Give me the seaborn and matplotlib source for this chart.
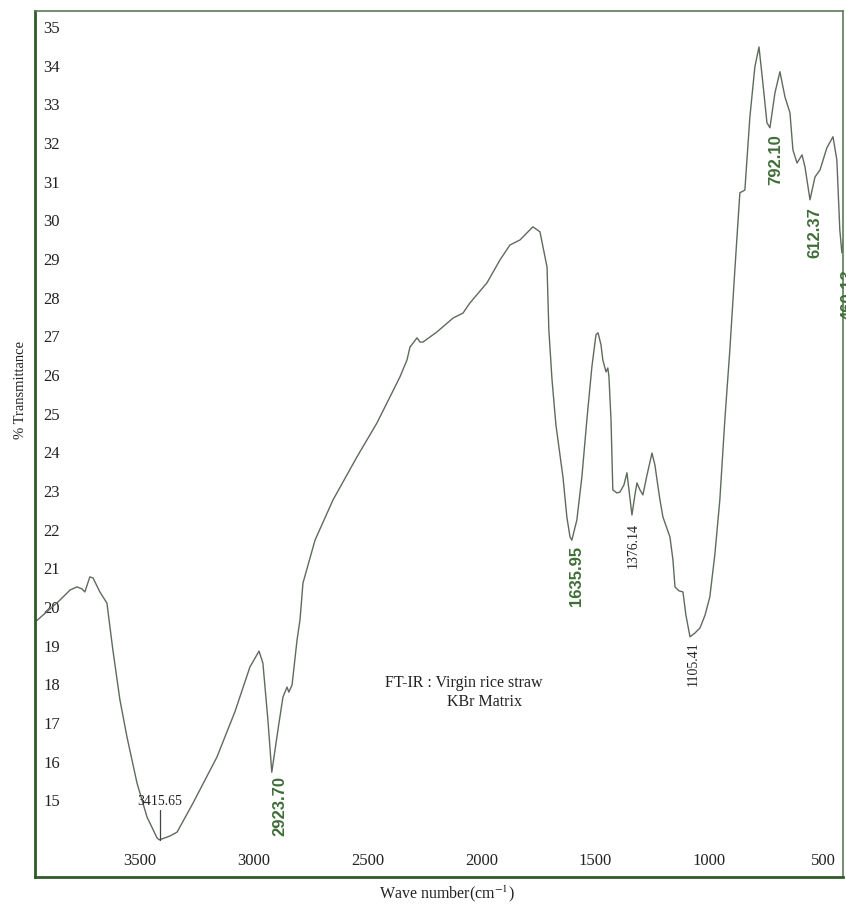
import matplotlib
matplotlib.use("Agg")
import matplotlib.pyplot as plt
import seaborn as sns
import pandas as pd

# ---- data ----
wavenumber = [3961, 3860, 3807, 3777, 3755, 3742, 3720, 3706, 3676, 3645,
              3619, 3588, 3557, 3513, 3469, 3425, 3415, 3368, 3337, 3267,
              3162, 3083, 3017, 2977, 2960, 2938, 2921, 2894, 2872, 2854,
              2846, 2832, 2810, 2797, 2784, 2731, 2652, 2547, 2459, 2358,
              2327, 2314, 2283, 2270, 2257, 2196, 2125, 2081, 2051, 1976,
              1919, 1875, 1831, 1774, 1743, 1712, 1704, 1690, 1673, 1642,
              1625, 1611, 1603, 1581, 1559, 1537, 1515, 1497, 1488, 1475,
              1467, 1453, 1445, 1440, 1431, 1423, 1405, 1392, 1374, 1361,
              1352, 1339, 1326, 1317, 1304, 1291, 1273, 1251, 1238, 1229,
              1216, 1203, 1172, 1159, 1150, 1133, 1115, 1102, 1084, 1062,
              1040, 1018, 997, 975, 953, 931, 909, 887, 865, 843,
              821, 799, 781, 764, 746, 733, 711, 689, 667, 645,
              632, 614, 592, 579, 557, 535, 513, 483, 456, 439,
              426, 417, 404, 390]
transmittance = [19.61, 20.13, 20.44, 20.52, 20.47, 20.39, 20.78, 20.75, 20.39, 20.10,
                 18.89, 17.60, 16.64, 15.45, 14.57, 14.03, 13.98, 14.08, 14.18, 14.93,
                 16.12, 17.29, 18.45, 18.86, 18.55, 17.08, 15.73, 16.82, 17.67, 17.93,
                 17.80, 17.98, 19.15, 19.67, 20.62, 21.73, 22.77, 23.88, 24.76, 25.95,
                 26.39, 26.72, 26.96, 26.85, 26.85, 27.11, 27.47, 27.60, 27.86, 28.38,
                 28.97, 29.36, 29.49, 29.83, 29.70, 28.79, 27.16, 25.87, 24.71, 23.36,
                 22.33, 21.81, 21.73, 22.25, 23.36, 24.84, 26.21, 27.04, 27.09, 26.78,
                 26.39, 26.08, 26.18, 25.95, 24.84, 23.03, 22.95, 22.97, 23.16, 23.47,
                 23.03, 22.38, 22.90, 23.21, 23.03, 22.90, 23.41, 23.98, 23.67, 23.29,
                 22.77, 22.33, 21.81, 21.22, 20.52, 20.42, 20.39, 19.79, 19.23, 19.33,
                 19.46, 19.79, 20.26, 21.35, 22.77, 24.84, 26.65, 28.72, 30.71, 30.78,
                 32.67, 33.97, 34.48, 33.55, 32.52, 32.39, 33.29, 33.84, 33.19, 32.78,
                 31.82, 31.48, 31.69, 31.38, 30.53, 31.12, 31.30, 31.87, 32.16, 31.56,
                 29.75, 29.16, 29.75, 30.14]

x_ticks = [3500, 3000, 2500, 2000, 1500, 1000, 500]
y_ticks = list(range(14, 36))
y_ticklabels = ["" if v == 14 else str(v) for v in y_ticks]

# peak annotations
peak_labels = ["2923.70", "1635.95", "1376.14", "1105.41", "792.10", "612.37", "460.13"]
peak_x = [2885, 1581, 1335, 1071, 707, 535, 388]
peak_y = [14.86, 20.80, 21.60, 18.53, 31.56, 29.67, 28.07]
peak_green = [True, True, False, False, True, True, True]

df = pd.DataFrame({"Wavenumber": wavenumber, "T": transmittance})

sns.set_style("white")
plt.rcParams["font.family"] = ["Liberation Serif", "DejaVu Serif"]
plt.rcParams["mathtext.fontset"] = "stix"

fig = plt.figure(figsize=(8.46, 9.06), dpi=100)
ax = fig.add_axes([35 / 846, 1 - 877 / 906, (843 - 35) / 846, (877 - 11) / 906])

sns.lineplot(data=df, x="Wavenumber", y="T", ax=ax, color="#5e6b5c",
             linewidth=1.0, sort=False)

ax.set_xlim(3961, 412)
ax.set_ylim(13.02, 35.41)
ax.set_xlabel("")
ax.set_ylabel("")

spine_col = "#2f5a2a"
for side in ["left", "bottom"]:
    ax.spines[side].set_color(spine_col)
    ax.spines[side].set_linewidth(2.0)
for side in ["top", "right"]:
    ax.spines[side].set_color("#5d7a58")
    ax.spines[side].set_linewidth(1.2)

ax.set_yticks(y_ticks)
ax.set_yticklabels(y_ticklabels)
ax.set_xticks(x_ticks)
ax.set_xticklabels([str(v) for v in x_ticks])
ax.tick_params(axis="y", direction="in", length=5, width=1, pad=-6,
               labelsize=12, colors="#222222")
ax.tick_params(axis="x", direction="in", length=5, width=1, pad=-6,
               labelsize=12, colors="#222222")
for lab in ax.get_yticklabels():
    lab.set_horizontalalignment("left")
for lab in ax.get_xticklabels():
    lab.set_verticalalignment("bottom")

# 3415.65 label with marker line
ax.text(3412, 14.96, "3415.65", ha="center", va="center", fontsize=10,
        color="#222222")
ax.plot([3412, 3412], [14.75, 13.98], color="#444444", linewidth=0.9)

for txt, px, py, green in zip(peak_labels, peak_x, peak_y, peak_green):
    if green:
        ax.text(px, py, txt, rotation=90, ha="center", va="center",
                fontsize=12, fontweight="bold", color="#3f6e38",
                family=["Liberation Sans", "DejaVu Sans"], clip_on=False)
    else:
        ax.text(px, py, txt, rotation=90, ha="center", va="center",
                fontsize=10, color="#222222", clip_on=False)

ax.text(2424, 18.04, "FT-IR : Virgin rice straw", ha="left", va="center",
        fontsize=11.5, color="#222222")
ax.text(2152, 17.54, "KBr Matrix", ha="left", va="center",
        fontsize=11.5, color="#222222")

fig.text(447 / 846, 1 - 894 / 906, "Wave number(cm$^{-1}$)", ha="center",
         va="center", fontsize=11.5, color="#222222")
fig.text(20 / 846, 1 - 390 / 906, "% Transmittance", rotation=90,
         ha="center", va="center", fontsize=10.5, color="#222222")

fig.savefig("out.png", dpi=100, facecolor="white")
